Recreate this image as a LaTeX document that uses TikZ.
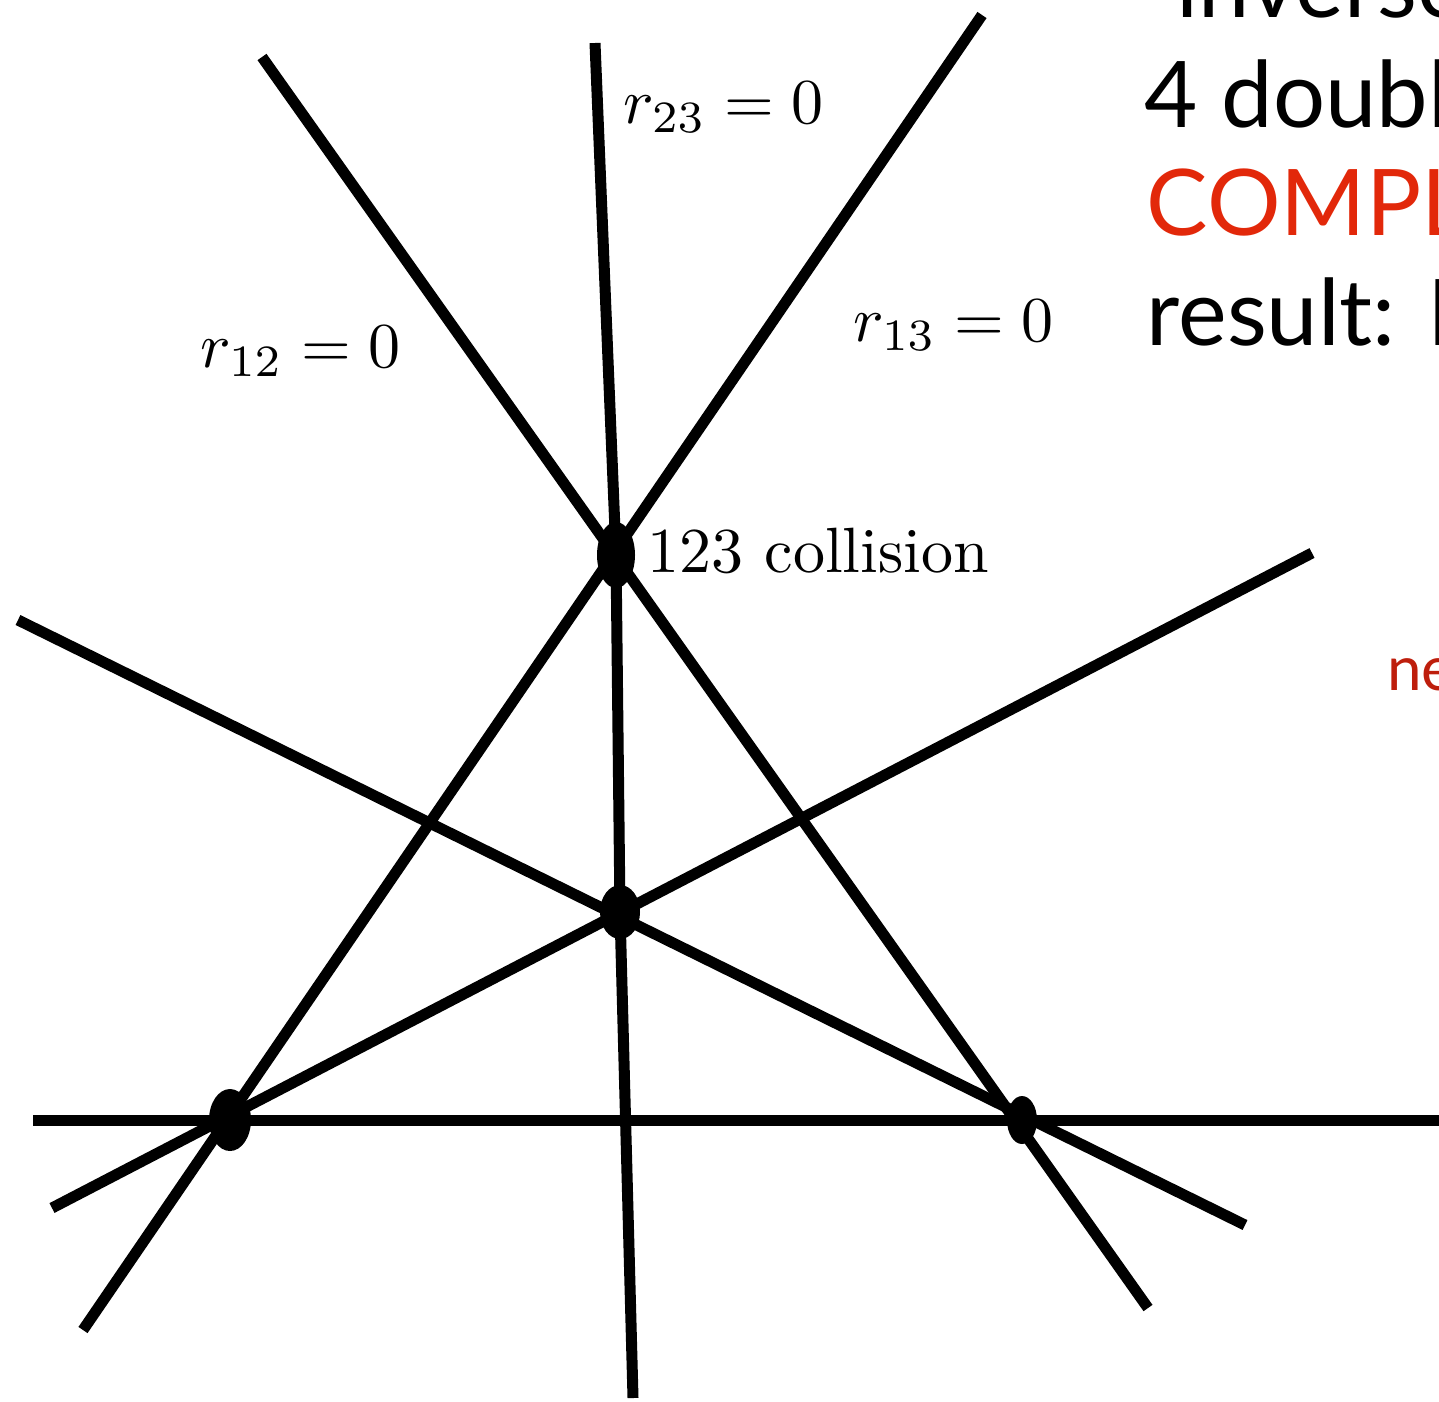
\documentclass[tikz,border=0pt]{standalone}
\usepackage{fontspec}
\newfontfamily\slidefont{Lato}
\usetikzlibrary{shapes.geometric}
\definecolor{slidered}{RGB}{226,40,10}
\definecolor{darkred}{RGB}{190,30,12}
\begin{document}
\begin{tikzpicture}[x=1pt,y=-1pt,
  thickline/.style={line width=11pt,line cap=butt,line join=round},
  blob/.style={ellipse,fill=black,inner sep=0pt},
  mathlabel/.style={anchor=base west,inner sep=0pt,scale=6.4},
  slidetext/.style={anchor=base west,inner sep=0pt,scale=9.2,font=\slidefont}]
\useasboundingbox (0,0) rectangle (1439,1401);
\clip (0,0) rectangle (1439,1401);
% endpoints
\coordinate (a1) at (262,57);   \coordinate (a2) at (1148,1308);
\coordinate (b1) at (982,15);   \coordinate (b2) at (83,1330);
\coordinate (v1) at (595,43);   \coordinate (v2) at (633,1398);
\coordinate (h1) at (33,1120);  \coordinate (h2) at (1450,1120);
\coordinate (d1) at (18,620);   \coordinate (d2) at (1245,1225);
\coordinate (e1) at (1312,553); \coordinate (e2) at (52,1208);
% collision points
\node[blob,minimum width=38pt,minimum height=66pt] (c123) at (616,555) {};
\node[blob,minimum width=40pt,minimum height=54pt] (cmid) at (620,912) {};
\node[blob,minimum width=42pt,minimum height=62pt] (cl) at (230,1120) {};
\node[blob,minimum width=30pt,minimum height=48pt] (cr) at (1022,1120) {};
% lines
\draw[thickline] (a1) -- (a2);
\draw[thickline] (b1) -- (b2);
\draw[thickline] (v1) -- (c123.center) -- (cmid.center) -- (v2);
\draw[thickline] (h1) -- (h2);
\draw[thickline] (d1) -- (d2);
\draw[thickline] (e1) -- (e2);
% labels
\node[mathlabel] (l23) at (622,123) {$r_{23}=0$};
\node[mathlabel] (l12) at (199,367) {$r_{12}=0$};
\node[mathlabel] (l13) at (852,341) {$r_{13}=0$};
\node[mathlabel] (lcol) at (646,572) {123 collision};
% slide text
\node[slidetext] (t0) at (1175,17) {inverse};
\node[slidetext] (t1) at (1143,127) {4 doubl};
\node[slidetext,text=slidered] (t2) at (1145,235) {COMPL};
\node[slidetext] (t3) at (1145,345) {result: K};
\node[anchor=base west,inner sep=0pt,scale=6.2,font=\slidefont,text=darkred] (t4) at (1386,690) {ne};
\end{tikzpicture}
\end{document}
